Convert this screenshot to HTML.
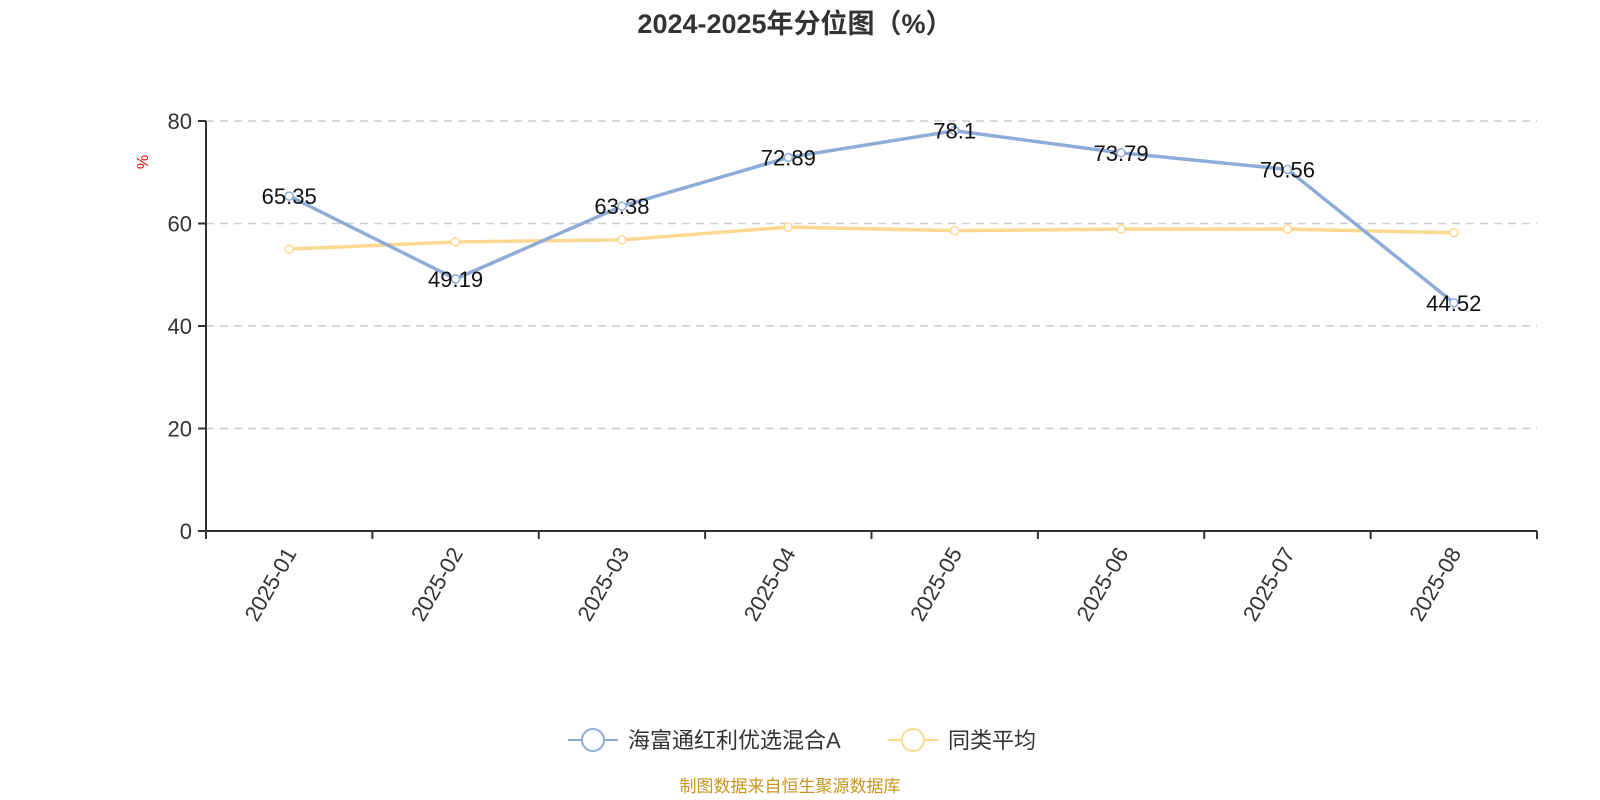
<!DOCTYPE html>
<html><head><meta charset="utf-8"><style>
html,body{margin:0;padding:0;background:#fff;width:1600px;height:800px;overflow:hidden}
svg{display:block;font-family:"Liberation Sans","Noto Sans CJK SC",sans-serif}
</style></head><body>
<svg id="chart" width="1600" height="800">
<text x="795" y="33" text-anchor="middle" font-size="27" font-weight="bold" fill="#333">2024-2025年分位图（%）</text>
<text transform="translate(148,162) rotate(-90)" text-anchor="middle" font-size="16" fill="#f00">%</text>
<g id="grid"></g><g id="axes"></g><g id="series"></g>
<g>
<g>
<line x1="568" y1="740" x2="618" y2="740" stroke="#8eacd8" stroke-width="2"/>
<circle cx="593" cy="740" r="11" fill="#fff" stroke="#8eacd8" stroke-width="2"/>
<text x="628" y="748" font-size="22" fill="#333">海富通红利优选混合A</text></g>
<g>
<line x1="888" y1="740" x2="938" y2="740" stroke="#fdd891" stroke-width="2"/>
<circle cx="913" cy="740" r="11" fill="#fff" stroke="#fdd891" stroke-width="2"/>
<text x="948" y="748" font-size="22" fill="#333">同类平均</text></g>
</g>
<text x="790" y="792" text-anchor="middle" font-size="17" fill="#c8961e">制图数据来自恒生聚源数据库</text>
</svg>
<script>
const categories=["2025-01","2025-02","2025-03","2025-04","2025-05","2025-06","2025-07","2025-08"];
const fundValues=[65.35,49.19,63.38,72.89,78.1,73.79,70.56,44.52];
const avgValues=[55.0,56.4,56.8,59.3,58.6,58.9,58.9,58.2];
const yTicks=[0,20,40,60,80];
const NS="http://www.w3.org/2000/svg";
const L=206,R=1537,T=121,B=531,YMAX=80;
const bw=(R-L)/categories.length;
const xs=i=>L+bw*(i+0.5);
const ys=v=>B-(v/YMAX)*(B-T);
function mk(tag,attrs,parent){const e=document.createElementNS(NS,tag);for(const k in attrs)e.setAttribute(k,attrs[k]);parent.appendChild(e);return e;}
const grid=document.getElementById('grid'),axes=document.getElementById('axes'),series=document.getElementById('series');
yTicks.forEach(t=>{
 if(t>0){const g=mk('line',{x1:L,x2:R,y1:ys(t),y2:ys(t),stroke:'#ccc','stroke-dasharray':'8,6','stroke-width':1.5},grid);
 
 }
 const tk=mk('line',{x1:L-8,x2:L,y1:ys(t),y2:ys(t),stroke:'#333','stroke-width':2},axes);
 
 
 const lb=mk('text',{x:L-14,y:ys(t)+8,'text-anchor':'end','font-size':22,fill:'#333'},axes);
 lb.textContent=t;
 
 
});
const ya=mk('line',{x1:L,x2:L,y1:T,y2:B,stroke:'#333','stroke-width':2},axes);


const xa=mk('line',{x1:L,x2:R,y1:B,y2:B,stroke:'#333','stroke-width':2},axes);


for(let i=0;i<=categories.length;i++){
 const tk=mk('line',{x1:L+bw*i,x2:L+bw*i,y1:B,y2:B+8,stroke:'#333','stroke-width':2},axes);
 
 
}
categories.forEach((c,i)=>{
 const x=xs(i),y=B+22;
 const lb=mk('text',{x:x+8,y:y,'text-anchor':'end','font-size':22,fill:'#333',transform:`rotate(-60 ${x+8} ${y})`},axes);
 lb.textContent=c;
 
 
});
function drawSeries(vals,color,name,labels){
 const p=mk('polyline',{points:vals.map((v,i)=>xs(i)+','+ys(v)).join(' '),fill:'none',stroke:color,'stroke-width':3.5},series);
 
 
 vals.forEach((v,i)=>{
  const c=mk('circle',{cx:xs(i),cy:ys(v),r:4,fill:'#fff',stroke:color,'stroke-width':1.5},series);
  
  
  if(labels){
   const t=mk('text',{x:xs(i),y:ys(v)+8,'text-anchor':'middle','font-size':22,fill:'#111'},series);
   t.textContent=v;
   
   
  }
 });
}
drawSeries(avgValues,'#fdd891','average',false);
drawSeries(fundValues,'#8eacd8','fund',true);
</script>
</body></html>
